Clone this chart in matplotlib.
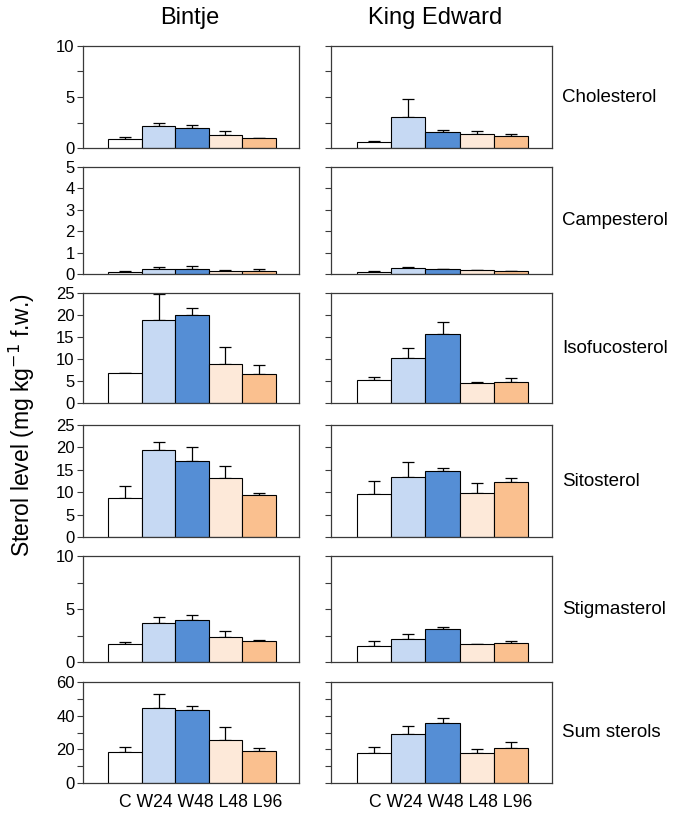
import numpy as np
import matplotlib
matplotlib.use("Agg")
import matplotlib.pyplot as plt
from matplotlib.ticker import MultipleLocator

plt.rcParams['font.family'] = ['Liberation Sans', 'DejaVu Sans']

# treatments and colours
treatments = ['C', 'W24', 'W48', 'L48', 'L96']
colors = ['#ffffff', '#c6d9f3', '#558ed5', '#fde9d9', '#fac08f']

cultivars = ['Bintje', 'King Edward']
sterols = ['Cholesterol', 'Campesterol', 'Isofucosterol', 'Sitosterol',
           'Stigmasterol', 'Sum sterols']

# means and upper error (SD)
bintje_mean = {
    'Cholesterol':   [0.88, 2.12, 1.92, 1.27, 0.94],
    'Campesterol':   [0.08, 0.25, 0.23, 0.16, 0.16],
    'Isofucosterol': [6.8, 18.9, 20.1, 8.9, 6.7],
    'Sitosterol':    [8.8, 19.5, 17.0, 13.1, 9.4],
    'Stigmasterol':  [1.69, 3.67, 3.95, 2.38, 1.94],
    'Sum sterols':   [18.5, 44.5, 43.1, 25.6, 19.1],
}
bintje_err = {
    'Cholesterol':   [0.16, 0.32, 0.29, 0.39, 0.06],
    'Campesterol':   [0.04, 0.09, 0.13, 0.03, 0.06],
    'Isofucosterol': [0.1, 5.8, 1.5, 3.8, 1.9],
    'Sitosterol':    [2.6, 1.8, 3.1, 2.7, 0.5],
    'Stigmasterol':  [0.19, 0.59, 0.44, 0.57, 0.16],
    'Sum sterols':   [2.8, 8.5, 2.6, 7.4, 1.6],
}
king_mean = {
    'Cholesterol':   [0.55, 3.08, 1.56, 1.36, 1.17],
    'Campesterol':   [0.08, 0.27, 0.22, 0.17, 0.14],
    'Isofucosterol': [5.3, 10.3, 15.6, 4.6, 4.8],
    'Sitosterol':    [9.6, 13.3, 14.8, 9.9, 12.2],
    'Stigmasterol':  [1.54, 2.19, 3.07, 1.66, 1.75],
    'Sum sterols':   [17.6, 29.4, 35.7, 18.1, 20.5],
}
king_err = {
    'Cholesterol':   [0.10, 1.72, 0.23, 0.26, 0.19],
    'Campesterol':   [0.06, 0.04, 0.03, 0.03, 0.02],
    'Isofucosterol': [0.7, 2.1, 2.8, 0.1, 0.8],
    'Sitosterol':    [2.9, 3.4, 0.5, 2.2, 0.9],
    'Stigmasterol':  [0.40, 0.47, 0.25, 0.03, 0.25],
    'Sum sterols':   [3.9, 4.3, 3.0, 2.2, 3.8],
}

ylims = {
    'Cholesterol': (10, 5, 2.5),
    'Campesterol': (5, 1, None),
    'Isofucosterol': (25, 5, None),
    'Sitosterol': (25, 5, None),
    'Stigmasterol': (10, 5, 2.5),
    'Sum sterols': (60, 20, 10),
}

W, H = 685, 816
fig = plt.figure(figsize=(W / 100, H / 100), dpi=100)

col_x = [(83, 299), (331, 552)]
row_y = [(46, 148), (167, 274), (293, 403), (425, 537), (556, 662), (682, 783)]

x = np.arange(len(treatments))
edge = '#3a3a3a'

for ci, (means, errs) in enumerate([(bintje_mean, bintje_err), (king_mean, king_err)]):
    x0, x1 = col_x[ci]
    for ri, s in enumerate(sterols):
        top, bot = row_y[ri]
        ax = fig.add_axes([x0 / W, 1 - bot / H, (x1 - x0) / W, (bot - top) / H])
        m = means[s]
        e = errs[s]
        ax.bar(x, m, width=1.0, color=colors, edgecolor='black', linewidth=0.8, zorder=2)
        ax.errorbar(x, m, yerr=[np.zeros(len(m)), e], fmt='none', ecolor='black',
                    elinewidth=0.9, capsize=4, capthick=0.9, zorder=1)
        ymax, major, minor = ylims[s]
        ax.set_ylim(0, ymax)
        ax.set_xlim(-1.26, 5.2)
        ax.set_xticks([])
        ax.yaxis.set_major_locator(MultipleLocator(major))
        if minor:
            ax.yaxis.set_minor_locator(MultipleLocator(minor))
        for sp in ax.spines.values():
            sp.set_color(edge)
            sp.set_linewidth(0.9)
        ax.tick_params(axis='y', which='both', direction='out', length=4, width=0.8,
                       color=edge, labelsize=12, pad=2)
        if ci == 1:
            ax.tick_params(axis='y', labelleft=False)
            fig.text(562 / W, 1 - (top + bot) / 2 / H, s, fontsize=13.5,
                     ha='left', va='center')
        if ri == len(sterols) - 1:
            # treatment labels as one line under the bars, as in the source figure
            ax.text(2.25, -0.19, ' '.join(treatments), transform=ax.get_xaxis_transform(),
                    fontsize=12.7, ha='center', va='center')

fig.text(190 / W, 1 - 18 / H, 'Bintje', fontsize=17, ha='center', va='center')
fig.text(435 / W, 1 - 18 / H, 'King Edward', fontsize=17, ha='center', va='center')
fig.text(22 / W, 1 - 425 / H, 'Sterol level (mg kg$^{-1}$ f.w.)', fontsize=16.5,
         rotation=90, ha='center', va='center')

fig.savefig('out.png', dpi=100)
